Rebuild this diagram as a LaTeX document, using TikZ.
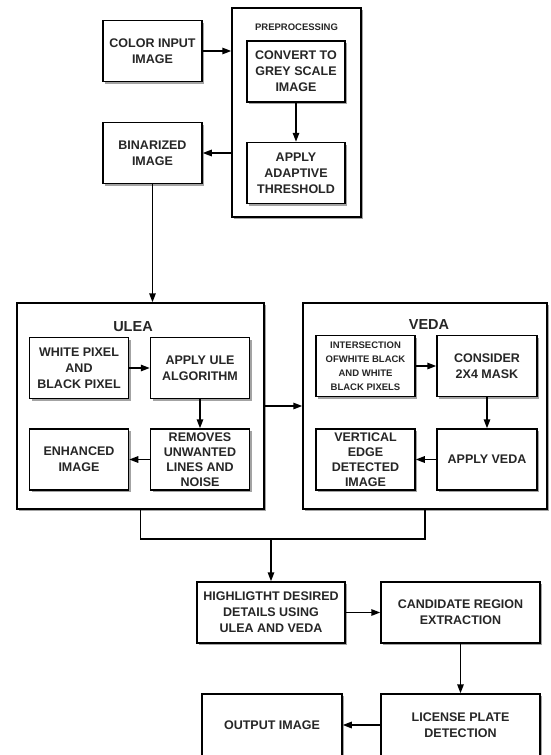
\documentclass[tikz,border=0pt]{standalone}
\usepackage{fontspec}
\setmainfont{Liberation Sans}
\usetikzlibrary{arrows.meta,shadows}
\tikzset{>={Triangle[length=9pt,width=6.5pt]}}

\begin{document}
\begin{tikzpicture}[x=1pt, y=-1pt, % 1 unidad = 1 px de la figura
  sombra/.style={drop shadow={shadow xshift=2pt, shadow yshift=-2pt, fill=black!60, opacity=0.6}},
  grp/.style={draw, line width=1.5pt, fill=white, sombra},
  blk/.style={draw, line width=1.5pt, fill=white, sombra, align=center, inner sep=2pt,
    minimum width=99pt, minimum height=61pt, text=black!85,
    font=\bfseries\fontsize{12.5}{16}\selectfont},
  lbl/.style={text=black!85, font=\bfseries\fontsize{14.5}{16}\selectfont}]
\useasboundingbox (0,0) rectangle (550,755);

% Marcos de grupo
\node[grp, minimum width=129pt, minimum height=209pt] (pre) at (296.5,112.5) {};
\node[grp, minimum width=247pt, minimum height=206pt] (ulea) at (140.5,406) {};
\node[grp, minimum width=244pt, minimum height=206pt] (veda) at (425,406) {};
\node[text=black!85, font=\bfseries\fontsize{9.5}{11}\selectfont] (prel) at (296.5,27) {PREPROCESSING};
\node[lbl] (uleal) at (133,327) {ULEA};
\node[lbl] (vedal) at (429,325) {VEDA};

% Entrada y preprocesado
\node[blk] (col) at (152.5,51) {COLOR INPUT\\IMAGE};
\node[blk] (bin) at (152.5,153) {BINARIZED\\IMAGE};
\node[blk, minimum width=98pt] (gry) at (296,71.5) {CONVERT TO\\GREY SCALE\\IMAGE};
\node[blk, minimum width=98pt] (thr) at (296,173) {APPLY\\ADAPTIVE\\THRESHOLD};

% ULEA
\node[blk] (wb) at (79,368) {WHITE PIXEL\\AND\\BLACK PIXEL};
\node[blk] (ule) at (200,368) {APPLY ULE\\ALGORITHM};
\node[blk] (enh) at (79,459.5) {ENHANCED\\IMAGE};
\node[blk, font=\bfseries\fontsize{12.5}{15}\selectfont] (rem) at (200,459.5) {REMOVES\\UNWANTED\\LINES AND\\NOISE};

% VEDA
\node[blk, font=\bfseries\fontsize{9.5}{14}\selectfont] (inter) at (365.5,366) {INTERSECTION\\OFWHITE BLACK\\AND WHITE\\BLACK PIXELS};
\node[blk, minimum width=100pt] (msk) at (487,366) {CONSIDER\\2X4 MASK};
\node[blk, font=\bfseries\fontsize{12.5}{15}\selectfont] (ved) at (365.5,459.5) {VERTICAL\\EDGE\\DETECTED\\IMAGE};
\node[blk, minimum width=100pt] (av) at (487,459.5) {APPLY VEDA};

% Etapas finales
\node[blk, minimum width=148pt] (hl) at (271,612.5) {HIGHLIGTHT DESIRED\\DETAILS USING\\ULEA AND VEDA};
\node[blk, minimum width=159pt] (cand) at (460.5,612.5) {CANDIDATE REGION\\EXTRACTION};
\node[blk, minimum width=159pt, minimum height=62pt] (lic) at (460.5,725) {LICENSE PLATE\\DETECTION};
\node[blk, minimum width=140pt, minimum height=62pt] (out) at (272,725) {OUTPUT IMAGE};

% Flechas
\begin{scope}[line width=1.5pt]
\draw[->] (col.east) -- (col.east -| pre.west);
\draw[->] (bin.east -| pre.west) -- (bin.east);
\draw[->] (bin.south) -- (bin.south |- ulea.north);
\draw[->] (ulea.east) -- (veda.west);
\foreach \a/\b in {gry/thr, wb/ule, ule/rem, rem/enh, inter/msk, msk/av, av/ved, hl/cand, cand/lic, lic/out}
  \draw[->] (\a) -- (\b);
\coordinate (jn) at (271,539);
\draw (ulea.south) |- (jn) -| (veda.south);
\draw[->] (jn) -- (hl.north);
\end{scope}

\end{tikzpicture}
\end{document}
